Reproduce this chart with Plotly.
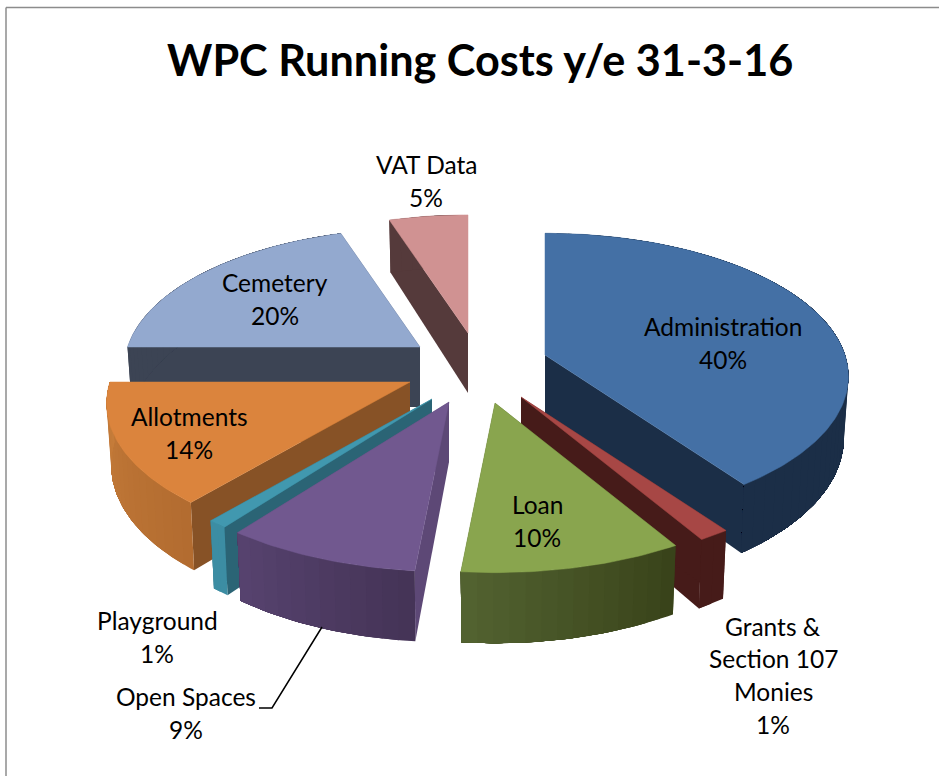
import numpy as np
import plotly.graph_objects as go

# --- data ---
CATEGORIES = ["Administration", "Grants & Section 107 Monies", "Loan", "Open Spaces",
              "Playground", "Allotments", "Cemetery", "VAT Data"]
VALUES = [40.1, 1.4, 10.0, 8.8, 0.9, 13.8, 20.0, 5.0]
TITLE = "WPC Running Costs y/e 31-3-16"

# --- layout / style (pixel space of the 939x776 page) ---
W, H = 939, 776
RX, RY, K, DEPTH, SQUEEZE = 300, 140, 0.15, 60, 0.985
APEX = {"Administration": (545, 355), "Grants & Section 107 Monies": (521, 397), "Loan": (495, 403),
        "Open Spaces": (449, 402), "Playground": (432, 399), "Allotments": (410, 382),
        "Cemetery": (420, 347), "VAT Data": (468, 333)}
SCALE = {"Administration": 1.0, "Grants & Section 107 Monies": 1.03, "Loan": 1.03, "Open Spaces": 1.03,
         "Playground": 1.01, "Allotments": 1.0, "Cemetery": 0.975, "VAT Data": 0.97}
TOP = {"Administration": "#4470A5", "Grants & Section 107 Monies": "#A74745", "Loan": "#89A54E",
       "Open Spaces": "#71588F", "Playground": "#4198AF", "Allotments": "#DB843D",
       "Cemetery": "#93A9CF", "VAT Data": "#D09292"}
SIDE = {"Administration": "#1B2E47", "Grants & Section 107 Monies": "#461B19", "Loan": "#384219",
        "Open Spaces": "#5D4876", "Playground": "#2B6475", "Allotments": "#875226",
        "Cemetery": "#3C4454", "VAT Data": "#553A3B"}
RIM = {"Administration": ("#1B2E47", "#1B2E47"), "Grants & Section 107 Monies": ("#461B19", "#461B19"),
       "Loan": ("#384219", "#536331"), "Open Spaces": ("#443356", "#57436F"),
       "Playground": ("#3C8DA3", "#3C8DA3"), "Allotments": ("#B26C30", "#C67C3A"),
       "Cemetery": ("#3C4454", "#3C4454"), "VAT Data": ("#553A3B", "#553A3B")}
ORDER = ["VAT Data", "Cemetery", "Administration", "Allotments", "Playground",
         "Grants & Section 107 Monies", "Open Spaces", "Loan"]
LABEL_POS = {"Administration": (723, [326, 359]), "Grants & Section 107 Monies": (773, [626, 658, 691, 724]),
             "Loan": (537, [504, 537]), "Open Spaces": (186, [696, 729]), "Playground": (157, [620, 653]),
             "Allotments": (189, [416, 449]), "Cemetery": (275, [282, 315]), "VAT Data": (426, [164, 197])}
LABEL_LINES = {"Grants & Section 107 Monies": ["Grants &", "Section 107", "Monies"]}
FONT = "Lato, Carlito, Calibri, sans-serif"


def mix(a, b, t):
    ca = [int(a[i:i + 2], 16) for i in (1, 3, 5)]
    cb = [int(b[i:i + 2], 16) for i in (1, 3, 5)]
    return "#%02x%02x%02x" % tuple(round(p + (q - p) * t) for p, q in zip(ca, cb))


def rim(name, deg, lower=False):
    t = np.radians(deg)
    X, Y = np.sin(t), -np.cos(t)
    w = 1 - K * Y
    ax, ay = APEX[name]
    s = SCALE[name]
    dx, dy = s * RX * X / w, s * RY * Y / w
    if lower:
        return ax + dx * SQUEEZE, ay + dy + DEPTH / w
    return ax + dx, ay + dy


def poly(xs, ys, color, lw=0.0):
    fig.add_trace(go.Scatter(x=list(xs), y=list(ys), mode="lines", fill="toself", fillcolor=color,
                             line=dict(color=color, width=lw), hoverinfo="skip", showlegend=False))


def radial_wall(name, deg, color):
    ax, ay = APEX[name]
    x1, y1 = rim(name, deg)
    x2, y2 = rim(name, deg, True)
    poly([ax, x1, x2, ax, ax], [ay, y1, y2, ay + DEPTH, ay], color)


fig = go.Figure()

cum = np.cumsum([0] + VALUES) / sum(VALUES) * 360
spans = {c: (cum[i], cum[i + 1]) for i, c in enumerate(CATEGORIES)}

for name in ORDER:
    a, b = spans[name]
    radial_wall(name, b, SIDE[name])
    radial_wall(name, a, SIDE[name])
    # outer wall: each strip runs on to the slice's far end and the next one paints over it,
    # so the shading runs along the arc with no seams
    n = max(2, int((b - a) / 2.5))
    edges = np.linspace(a, b, n + 1)
    for i in range(n):
        seg = np.linspace(edges[i], b, max(3, int(b - edges[i]) + 2))
        up = [rim(name, d) for d in seg]
        lo = [rim(name, d, True) for d in seg[::-1]]
        pts = up + lo + [up[0]]
        poly([p[0] for p in pts], [p[1] for p in pts], mix(RIM[name][0], RIM[name][1], (i + 0.5) / n))
    # top face
    arc = [rim(name, d) for d in np.linspace(a, b, max(4, int(b - a) + 1))]
    ax, ay = APEX[name]
    poly([ax] + [p[0] for p in arc] + [ax], [ay] + [p[1] for p in arc] + [ay], TOP[name], 0.5)

# leader line for Open Spaces
fig.add_trace(go.Scatter(x=[259, 272, 322], y=[708, 708, 627], mode="lines",
                         line=dict(color="#000000", width=1.5), hoverinfo="skip", showlegend=False))

annotations = [dict(x=479.5, y=59, text="<b>%s</b>" % TITLE, showarrow=False, xref="x", yref="y",
                    font=dict(family=FONT, size=43.2, color="#000000"))]
for c, v in zip(CATEGORIES, VALUES):
    lines = LABEL_LINES.get(c, [c]) + ["%d%%" % round(v)]
    lx, lys = LABEL_POS[c]
    for text, ly in zip(lines, lys):
        annotations.append(dict(x=lx, y=ly, text=text, showarrow=False, xref="x", yref="y",
                                font=dict(family=FONT, size=24.5, color="#000000")))

fig.update_layout(
    width=W, height=H, margin=dict(l=0, r=0, t=0, b=0), paper_bgcolor="#FFFFFF", plot_bgcolor="#FFFFFF",
    xaxis=dict(range=[0, W], visible=False, fixedrange=True),
    yaxis=dict(range=[H, 0], visible=False, fixedrange=True),
    annotations=annotations, showlegend=False,
    shapes=[dict(type="line", xref="x", yref="y", x0=6, x1=6, y0=7.5, y1=H, line=dict(color="#8C8C8C", width=1.5)),
            dict(type="line", xref="x", yref="y", x0=6, x1=W, y0=7.5, y1=7.5, line=dict(color="#8C8C8C", width=1.5))],
)

fig.write_html("out.html", config={"displayModeBar": False},
               post_script="document.body.style.margin='0';document.body.style.overflow='hidden';")
